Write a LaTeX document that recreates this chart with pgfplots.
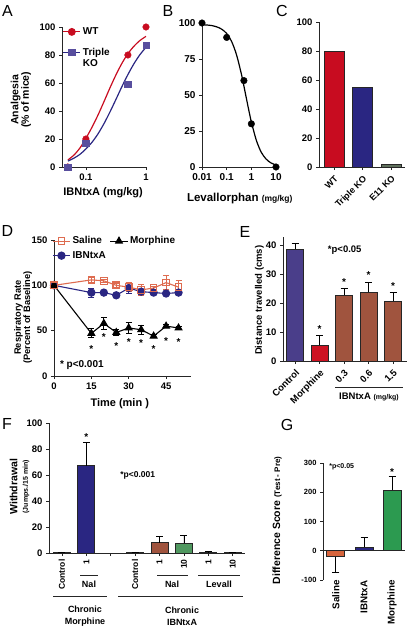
\documentclass[border=0pt]{standalone}
\usepackage{fontspec}
\setmainfont{Liberation Sans}
\usepackage{pgfplots}
\pgfplotsset{compat=1.18}
\definecolor{wtred}{RGB}{200,12,32}
\definecolor{kopurp}{RGB}{88,78,158}
\definecolor{navy}{RGB}{42,38,130}
\definecolor{e11}{RGB}{95,112,92}
\definecolor{salmon}{RGB}{222,108,80}
\definecolor{ctrlblue}{RGB}{74,62,138}
\definecolor{morred}{RGB}{204,18,34}
\definecolor{brn}{RGB}{160,84,62}
\definecolor{fgreen}{RGB}{80,152,96}
\definecolor{gsal}{RGB}{214,100,60}
\definecolor{ggreen}{RGB}{44,154,80}
\newcommand{\fs}[1]{\bfseries\fontsize{#1}{#1}\selectfont}
\newcommand{\tl}{\fs{9.5}}
\newcommand{\lb}{\fs{11}}
\newcommand{\st}{\fs{10}}
\newcommand{\pl}{\fontsize{16}{18}\selectfont}
\pgfplotsset{
  gp/.style={
    scale only axis, anchor=south west,
    axis lines*=left,
    axis line style={-, line width=0.9pt, black!85},
    every tick/.style={line width=0.8pt, black!85},
    tick align=outside, major tick length=3pt,
    tick label style={font=\tl},
    label style={font=\lb},
    /pgf/number format/assume math mode=true,
    clip=false,
    legend cell align=left,
  },
  bars/.style={ybar, bar shift=0pt,
    error bars/error bar style={line width=0.9pt, black},
    error bars/error mark options={rotate=90, mark size=3.5pt, line width=0.9pt, black}},
  bfill/.style={fill=#1, draw=black!85, line width=0.9pt},
}
\begin{document}
\begin{tikzpicture}
\useasboundingbox (0,0) rectangle (408pt,-631pt);
% ---------------- A
\begin{axis}[gp, at={(62pt,-167pt)}, width=84pt, height=140pt,
  xmode=log, xmin=0.04, xmax=1, ymin=0, ymax=100,
  xtick={0.1,1}, xticklabels={0.1,1}, minor tick length=0pt,
  ytick={0,20,40,60,80,100},
  xlabel={IBNtxA (mg/kg)}, ylabel={Analgesia\\(\% of mice)},
  xlabel style={at={(axis description cs:0.49,-0.186)}, anchor=center},
  ylabel style={at={(axis description cs:-0.49,0.48)}, anchor=center, align=center, font=\fs{10.5}},
  legend style={at={(axis description cs:-0.03,1.025)}, anchor=north west, draw=none, fill=none, font=\fs{10}, row sep=8pt},
]
\addplot[wtred, line width=1.2pt, smooth, forget plot] coordinates {
 (0.0501,5) (0.0631,8.5) (0.0794,13.5) (0.1,20.5) (0.1259,28.3) (0.1585,37.0) (0.1995,46.6)
 (0.2512,56.5) (0.3162,65.8) (0.3981,74.1) (0.5012,81.0) (0.6310,86.3) (0.7943,90.4) (1,93.3)};
\addplot[navy, line width=1.2pt, smooth, forget plot] coordinates {
 (0.0501,4.2) (0.0631,6.3) (0.0794,9.0) (0.1,12.9) (0.1259,17.6) (0.1585,23.6) (0.1995,30.9)
 (0.2512,39.3) (0.3162,48.3) (0.3981,57.5) (0.5012,66.1) (0.6310,73.8) (0.7943,80.3) (1,85.5)};
\addplot[only marks, mark=*, wtred, mark size=3.3pt, forget plot] coordinates {(0.05,0) (0.1,20) (0.5,80) (1,100)};
\addplot[only marks, mark=square*, kopurp, mark size=3.3pt, forget plot] coordinates {(0.05,0) (0.1,17) (0.5,59) (1,87)};
\addlegendimage{wtred, line width=1.2pt, mark=*, mark size=3.3pt}
\addlegendentry{WT}
\addlegendimage{navy, line width=1.2pt, mark=square*, mark size=3.3pt, mark options={kopurp}}
\addlegendentry{\begin{tabular}[t]{@{}l@{}}Triple\\[1pt]KO\end{tabular}}
\end{axis}
% ---------------- B
\begin{axis}[gp, at={(202pt,-167pt)}, width=74pt, height=144pt,
  xmode=log, xmin=0.01, xmax=10, ymin=0, ymax=100,
  xtick={0.01,0.1,1,10}, xticklabels={0.01,0.1,1,10}, minor tick length=0pt,
  ytick={0,25,50,75,100},
  xlabel={Levallorphan {\fontsize{8.5}{9}\selectfont(mg/kg)}},
  xlabel style={at={(axis description cs:0.51,-0.22)}, anchor=center, font=\fs{11.5}},
  tick label style={font=\fs{10}},
]
\addplot[black, line width=1.2pt, smooth] coordinates {
 (0.01,98.8) (0.0158,98.6) (0.0251,98.2) (0.0398,97.3) (0.0631,95.7) (0.1,92.7) (0.1585,87.2)
 (0.2512,77.9) (0.3981,64.3) (0.5012,56.1) (0.6310,47.6) (0.7943,39.2) (1,31.4) (1.585,18.7)
 (2.512,10.3) (3.981,5.5) (6.310,2.8) (10,1.4)};
\addplot[only marks, mark=*, black, mark size=3.3pt] coordinates {(0.01,100) (0.1,90) (0.5,60) (1,30) (10,0)};
\end{axis}
% ---------------- C
\begin{axis}[gp, bars, at={(319pt,-167pt)}, width=86pt, height=145pt,
  xmin=-0.53, xmax=2.49, ymin=0, ymax=100, ytick={0,20,40,60,80,100},
  xtick={0,1,2}, xticklabels={WT,Triple KO,E11 KO},
  x tick label style={rotate=45, anchor=north east, font=\fs{9}},
  bar width=20pt,
]
\addplot[bfill=wtred] coordinates {(0,80)};
\addplot[bfill=navy] coordinates {(1,55)};
\addplot[bfill=e11] coordinates {(2,2)};
\end{axis}
% ---------------- D
\begin{axis}[gp, at={(54pt,-376pt)}, width=137pt, height=136pt,
  xmin=0, xmax=55, ymin=0, ymax=150, xtick={0,15,30,45}, ytick={0,50,100,150},
  xlabel={Time (min )}, ylabel={Respiratory Rate\\(Percent of Baseline)},
  xlabel style={at={(axis description cs:0.48,-0.2)}, anchor=center},
  ylabel style={at={(axis description cs:-0.225,0.43)}, anchor=center, align=center, font=\fs{9.3}},
  legend columns=2,
  legend style={at={(axis description cs:-0.035,1.055)}, anchor=north west, draw=none, fill=none, font=\fs{10}, row sep=2pt,
    /tikz/every even column/.append style={column sep=2pt}},
]
\addlegendimage{salmon, line width=1.1pt, mark=square, mark size=3.3pt, mark options={line width=1.1pt}}
\addlegendentry{Saline}
\addlegendimage{black, line width=1.1pt, mark=triangle*, mark size=3.8pt}
\addlegendentry{Morphine}
\addlegendimage{navy, line width=1.1pt, mark=*, mark size=3.6pt}
\addlegendentry{IBNtxA}
\addplot[navy, line width=1.1pt, mark=*, mark size=3.6pt, forget plot,
  error bars/.cd, y dir=both, y explicit, error bar style={line width=0.9pt, navy},
  error mark options={rotate=90, mark size=3pt, line width=0.9pt, navy}] coordinates {
 (0,100) +- (0,0) (15,92) +- (0,5) (20,92) +- (0,2) (25,89) +- (0,2) (30,97) +- (0,6)
 (35,93) +- (0,3) (40,92) +- (0,2) (45,91) +- (0,2) (50,92) +- (0,2)};
\addplot[black, line width=1.1pt, mark=triangle*, mark size=3.8pt, forget plot,
  error bars/.cd, y dir=both, y explicit, error bar style={line width=0.9pt, black},
  error mark options={rotate=90, mark size=3pt, line width=0.9pt, black}] coordinates {
 (0,100) +- (0,0) (15,47) +- (0,5) (20,58) +- (0,7) (25,48) +- (0,3) (30,53) +- (0,6)
 (35,51) +- (0,5) (40,44) +- (0,2) (45,55) +- (0,2) (50,53) +- (0,2)};
\addplot[salmon, line width=1.1pt, mark=square, mark size=3.3pt, mark options={line width=1.1pt, fill=white}, forget plot,
  error bars/.cd, y dir=both, y explicit, error bar style={line width=0.9pt, salmon},
  error mark options={rotate=90, mark size=3pt, line width=0.9pt, salmon}] coordinates {
 (0,100) +- (0,0) (15,106) +- (0,3) (20,105) +- (0,2) (25,100) +- (0,2) (30,98) +- (0,5)
 (35,95) +- (0,6) (40,97) +- (0,2) (45,103) +- (0,8) (50,98) +- (0,7)};
\node[font=\st] at (axis cs:15,30) {*};
\node[font=\st] at (axis cs:20,43) {*};
\node[font=\st] at (axis cs:25,33) {*};
\node[font=\st] at (axis cs:30,37) {*};
\node[font=\st] at (axis cs:35,36) {*};
\node[font=\st] at (axis cs:40,30) {*};
\node[font=\st] at (axis cs:45,39) {*};
\node[font=\st] at (axis cs:50,37) {*};
\node[font=\fs{10}, anchor=west] at (axis cs:1,12) {* p<0.001};
\end{axis}
% ---------------- E
\begin{axis}[gp, bars, at={(283pt,-361pt)}, width=124pt, height=124pt,
  xmin=-0.49, xmax=4.57, ymin=0, ymax=43, ytick={0,10,20,30,40},
  xtick={0,1,2,3,4}, xticklabels={Control,Morphine,0.3,0.6,1.5},
  x tick label style={rotate=45, anchor=north east, font=\fs{9.5}},
  bar width=17pt,
  ylabel={Distance travelled (cms)},
  ylabel style={at={(axis description cs:-0.19,0.49)}, anchor=center, font=\fs{9.5}},
]
\addplot[bfill=ctrlblue, error bars/.cd, y dir=plus, y explicit] coordinates {(0,38.8) +- (0,1.8)};
\addplot[bfill=morred, error bars/.cd, y dir=plus, y explicit] coordinates {(1,5.4) +- (0,3.4)};
\addplot[bfill=brn, error bars/.cd, y dir=plus, y explicit] coordinates {(2,22.8) +- (0,2.2) (3,23.8) +- (0,3.5) (4,20.7) +- (0,3.1)};
\node[font=\st] at (axis cs:1,11) {*};
\node[font=\st] at (axis cs:2,27.4) {*};
\node[font=\st] at (axis cs:3,29.9) {*};
\node[font=\st] at (axis cs:4,26) {*};
\node[font=\fs{9.5}, anchor=west] at (axis cs:1.2,38.6) {*p<0.05};
\end{axis}
\draw[line width=0.9pt, black!85] (335pt,-387pt) -- (403pt,-387pt);
\node[font=\fs{9.5}] at (369pt,-397pt) {IBNtxA {\fontsize{7}{7}\selectfont(mg/kg)}};
% ---------------- F
\begin{axis}[gp, bars, at={(49pt,-553pt)}, width=196pt, height=130pt,
  xmin=-0.53, xmax=7.5, ymin=0, ymax=100, ytick={0,20,40,60,80,100},
  xtick={0,1,2,3,4,5,6,7}, xticklabels={Control,1,,Control,1,10,1,10},
  x tick label style={rotate=90, anchor=east, font=\fs{8.5}},
  bar width=17pt,
  ylabel={Withdrawal\\{\fs{7}(Jumps./15 min)}},
  ylabel style={at={(axis description cs:-0.15,0.51)}, anchor=center, align=center, font=\fs{10.5}},
]
\addplot[bfill=white, error bars/.cd, y dir=plus, y explicit] coordinates {(0,0.5) +- (0,0.3)};
\addplot[bfill=navy, error bars/.cd, y dir=plus, y explicit] coordinates {(1,67) +- (0,18)};
\addplot[bfill=white, error bars/.cd, y dir=plus, y explicit] coordinates {(3,0.5) +- (0,0.3)};
\addplot[bfill=brn, error bars/.cd, y dir=plus, y explicit] coordinates {(4,7.8) +- (0,5)};
\addplot[bfill=fgreen, error bars/.cd, y dir=plus, y explicit] coordinates {(5,7.5) +- (0,5.8)};
\addplot[bfill=white, error bars/.cd, y dir=plus, y explicit] coordinates {(6,0.6) +- (0,0.4) (7,0.4) +- (0,0.2)};
\node[font=\st] at (axis cs:1,89.5) {*};
\node[font=\fs{8.5}, anchor=west] at (axis cs:2.25,60) {*p<0.001};
\end{axis}
\begin{scope}[line width=0.9pt, black!85]
\draw (80pt,-575pt) -- (98pt,-575pt);
\draw (157pt,-575pt) -- (188pt,-575pt);
\draw (198pt,-575pt) -- (240pt,-575pt);
\draw (53pt,-596pt) -- (107pt,-596pt);
\draw (118pt,-596pt) -- (243pt,-596pt);
\end{scope}
\node[font=\fs{9}] at (89pt,-584pt) {Nal};
\node[font=\fs{9}] at (172pt,-584pt) {Nal};
\node[font=\fs{9}] at (219pt,-584pt) {Levall};
\node[font=\fs{9}, align=center] at (85pt,-616.5pt) {Chronic\\[3pt]Morphine};
\node[font=\fs{9}, align=center] at (182pt,-616.5pt) {Chronic\\[3pt]IBNtxA};
% ---------------- G
\begin{axis}[gp, bars, at={(323pt,-580pt)}, width=82pt, height=117pt,
  xmin=-0.46, xmax=2.46, ymin=-100, ymax=300, ytick={-100,0,100,200,300},
  yticklabels={-100,0,100,200,300},
  y tick label style={font=\fs{7.5}},
  xtick={0,1,2}, xticklabels={Saline,IBNtxA,Morphine},
  x tick label style={yshift=6pt, rotate=90, anchor=east, font=\fs{9.8}},
  x axis line style={draw=none}, xtick style={draw=none},
  bar width=18pt,
  ylabel={Difference Score {\fontsize{8}{8}\selectfont(Test - Pre)}},
  ylabel style={at={(axis description cs:-0.56,0.51)}, anchor=center, font=\fs{10.5}},
]
\draw[line width=0.9pt, black!85] (axis cs:-0.46,0) -- (axis cs:2.46,0);
\addplot[bfill=gsal, error bars/.cd, y dir=minus, y explicit] coordinates {(0,-20) +- (0,53)};
\addplot[bfill=navy, error bars/.cd, y dir=plus, y explicit] coordinates {(1,12) +- (0,33)};
\addplot[bfill=ggreen, error bars/.cd, y dir=plus, y explicit] coordinates {(2,207) +- (0,47)};
\node[font=\st] at (axis cs:2,268) {*};
\node[font=\fs{7}, anchor=west] at (axis cs:-0.36,286) {*p<0.05};
\end{axis}
% ---------------- panel letters
\node[font=\pl] at (7.5pt,-11pt) {A};
\node[font=\pl] at (168pt,-11pt) {B};
\node[font=\pl] at (282pt,-11pt) {C};
\node[font=\pl] at (7.5pt,-231pt) {D};
\node[font=\pl] at (245pt,-232pt) {E};
\node[font=\pl] at (7pt,-424pt) {F};
\node[font=\pl] at (287pt,-425pt) {G};
\end{tikzpicture}
\end{document}
